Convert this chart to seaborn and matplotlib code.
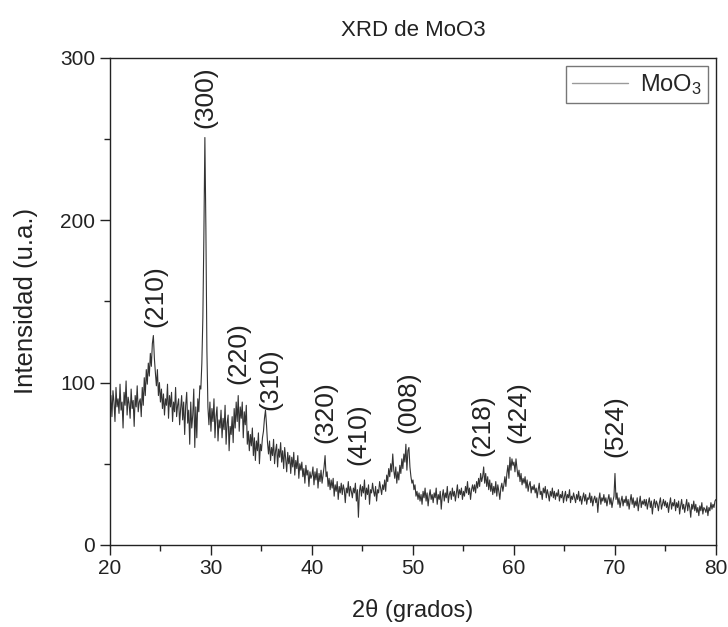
import numpy as np
import pandas as pd
import matplotlib
matplotlib.use("Agg")
import matplotlib.pyplot as plt
from matplotlib.ticker import MultipleLocator
import seaborn as sns

# 2-theta grid start/step (degrees) and intensity, one row per degree
two_theta_start = 20.0
two_theta_step = 0.1
intensity = [
    84, 92, 79, 95, 88, 76, 97, 85, 90, 81,      # 20
    99, 83, 88, 72, 94, 86, 101, 80, 91, 87,     # 21
    78, 96, 84, 89, 73, 92, 85, 98, 82, 88,      # 22
    90, 79, 97, 86, 103, 92, 108, 99, 112, 104,  # 23
    118, 110, 124, 129, 115, 106, 98, 108, 92, 100,  # 24
    88, 96, 84, 93, 80, 90, 86, 99, 78, 92,      # 25
    85, 94, 76, 88, 82, 97, 79, 86, 90, 74,      # 26
    84, 92, 77, 88, 68, 86, 94, 75, 83, 62,      # 27
    88, 72, 80, 96, 60, 85, 66, 90, 82, 98,      # 28
    96, 112, 140, 190, 251, 195, 120, 85, 74, 88,  # 29
    70, 84, 76, 90, 66, 79, 85, 64, 77, 72,      # 30
    83, 66, 78, 71, 86, 62, 75, 80, 58, 73,      # 31
    68, 79, 63, 84, 72, 88, 76, 92, 70, 85,      # 32
    78, 88, 66, 82, 74, 86, 62, 70, 58, 68,      # 33
    61, 72, 55, 66, 52, 64, 58, 69, 50, 62,      # 34
    58, 66, 70, 78, 83, 74, 63, 56, 64, 52,      # 35
    60, 55, 65, 50, 58, 62, 48, 59, 54, 63,      # 36
    51, 58, 47, 60, 53, 45, 57, 50, 55, 44,      # 37
    54, 48, 57, 43, 52, 47, 55, 41, 50, 46,      # 38
    51, 42, 47, 38, 49, 43, 46, 36, 45, 41,      # 39
    43, 48, 37, 45, 40, 47, 35, 44, 39, 46,      # 40
    38, 43, 48, 55, 42, 45, 36, 41, 34, 40,      # 41
    35, 41, 30, 37, 33, 39, 28, 36, 32, 38,      # 42
    31, 37, 34, 26, 35, 32, 39, 30, 36, 33,      # 43
    29, 35, 32, 38, 27, 34, 17, 33, 37, 30,      # 44
    36, 32, 40, 28, 35, 31, 37, 25, 34, 32,      # 45
    38, 33, 30, 36, 27, 34, 32, 39, 35, 31,      # 46
    37, 34, 40, 33, 43, 39, 47, 42, 50, 45,      # 47
    56, 46, 41, 48, 38, 45, 40, 49, 44, 53,      # 48
    47, 56, 51, 62, 46, 58, 60, 48, 42, 38,      # 49
    40, 34, 37, 30, 33, 28, 32, 27, 31, 25,      # 50
    33, 29, 35, 27, 32, 24, 30, 34, 28, 31,      # 51
    26, 32, 29, 35, 25, 31, 28, 33, 22, 30,      # 52
    34, 27, 32, 29, 36, 26, 31, 33, 28, 35,      # 53
    30, 33, 27, 32, 37, 29, 34, 31, 35, 28,      # 54
    33, 30, 36, 32, 39, 31, 35, 28, 34, 37,      # 55
    33, 37, 32, 39, 35, 41, 36, 44, 39, 42,      # 56
    48, 38, 44, 36, 42, 34, 40, 33, 38, 31,      # 57
    36, 32, 39, 30, 37, 33, 28, 35, 38, 33,      # 58
    37, 42, 36, 44, 49, 41, 54, 46, 53, 49,      # 59
    51, 45, 53, 47, 42, 46, 39, 44, 37, 41,      # 60
    38, 42, 35, 40, 33, 37, 39, 32, 36, 34,      # 61
    37, 32, 35, 29, 34, 38, 31, 33, 28, 35,      # 62
    32, 36, 29, 34, 31, 27, 33, 30, 35, 29,      # 63
    33, 28, 32, 30, 34, 27, 31, 29, 33, 26,      # 64
    30, 33, 27, 31, 29, 34, 26, 30, 28, 32,      # 65
    29, 26, 31, 28, 33, 27, 30, 25, 29, 32,      # 66
    27, 31, 25, 29, 28, 32, 26, 30, 24, 28,      # 67
    30, 26, 29, 20, 28, 32, 25, 29, 27, 31,      # 68
    26, 29, 24, 28, 31, 25, 29, 23, 27, 30,      # 69
    44, 28, 32, 25, 29, 23, 27, 30, 24, 28,      # 70
    26, 30, 24, 28, 22, 27, 31, 25, 29, 23,      # 71
    27, 24, 29, 21, 26, 30, 23, 27, 25, 28,      # 72
    24, 28, 22, 26, 29, 23, 27, 19, 25, 28,      # 73
    23, 27, 25, 21, 26, 29, 22, 25, 28, 24,      # 74
    27, 23, 26, 20, 25, 29, 22, 26, 24, 28,      # 75
    21, 26, 23, 27, 19, 24, 28, 22, 25, 20,      # 76
    24, 28, 21, 26, 23, 17, 25, 22, 27, 21,      # 77
    25, 20, 23, 18, 24, 21, 26, 19, 23, 22,      # 78
    20, 24, 18, 23, 21, 26, 22, 25, 23, 27,      # 79
    28,                                          # 80
]

# Peak labels (Miller indices), their 2-theta positions and label base heights
peak_labels = ["(210)", "(300)", "(220)", "(310)", "(320)", "(410)",
               "(008)", "(218)", "(424)", "(524)"]
peak_x = [24.5, 29.4, 32.7, 35.9, 41.3, 44.6, 49.5, 56.9, 60.4, 70.0]
peak_label_y = [134, 257, 99, 83, 63, 49, 69, 55, 63, 54]

n = len(intensity)
two_theta = [round(two_theta_start + i * two_theta_step, 1) for i in range(n)]
df = pd.DataFrame({"2theta": two_theta, "I": intensity})

sns.set_theme(style="ticks")
plt.rcParams["font.family"] = ["Liberation Sans", "DejaVu Sans"]
plt.rcParams["mathtext.fontset"] = "custom"
plt.rcParams["mathtext.rm"] = "Liberation Sans"
plt.rcParams["mathtext.it"] = "Liberation Sans:italic"

fig = plt.figure(figsize=(7.28, 6.27), dpi=100)
ax = fig.add_axes([0.151, 0.131, 0.8325, 0.7765])

sns.lineplot(data=df, x="2theta", y="I", ax=ax, color="#333333",
             linewidth=0.8, label="MoO$_3$")

ax.set_xlim(20, 80)
ax.set_ylim(0, 300)
ax.xaxis.set_major_locator(MultipleLocator(10))
ax.xaxis.set_minor_locator(MultipleLocator(5))
ax.yaxis.set_major_locator(MultipleLocator(100))
ax.yaxis.set_minor_locator(MultipleLocator(50))
ax.tick_params(axis="both", which="major", direction="out", length=7,
               width=1.0, labelsize=15, color="#222222", labelcolor="#222222")
ax.tick_params(axis="both", which="minor", direction="out", length=4,
               width=1.0, color="#222222")
for s in ax.spines.values():
    s.set_color("#222222")
    s.set_linewidth(1.0)

ax.set_xlabel("2θ (grados)", fontsize=17, color="#222222", labelpad=15)
ax.set_ylabel("Intensidad (u.a.)", fontsize=18.5, color="#222222", labelpad=16)
ax.set_title("XRD de MoO3", fontsize=16, color="#222222", pad=16)

for lab, px, py in zip(peak_labels, peak_x, peak_label_y):
    ax.text(px, py, lab, rotation=90, ha="center", va="bottom",
            fontsize=19, color="#222222")

leg = ax.legend(loc="upper right", fontsize=17, frameon=True, fancybox=False,
                handlelength=2.4, borderaxespad=0.35, borderpad=0.25,
                handletextpad=0.5)
leg.get_frame().set_edgecolor("#555555")
leg.get_frame().set_linewidth(1.0)
for h in leg.get_lines():
    h.set_color("#9a9a9a")
    h.set_linewidth(1.0)

fig.savefig("out.png", dpi=100)
